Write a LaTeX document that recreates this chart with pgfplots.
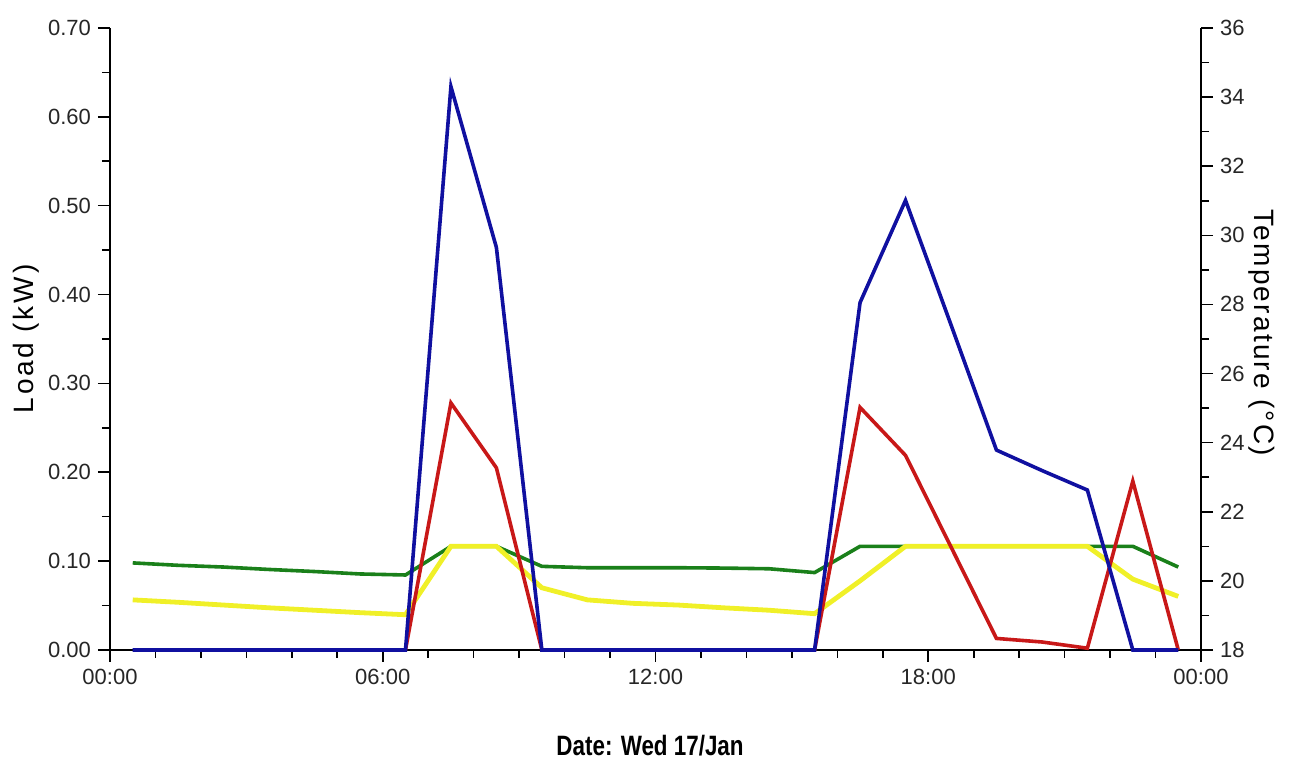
\documentclass[border=0pt]{standalone}
\usepackage{fontspec}
\setmainfont{Liberation Sans}
\usepackage{pgfplots}
\pgfplotsset{compat=1.18}
\usetikzlibrary{calc}
\definecolor{cblue}{RGB}{16,16,160}
\definecolor{cred}{RGB}{200,24,24}
\definecolor{cgreen}{RGB}{26,128,26}
\definecolor{cyellow}{RGB}{240,240,40}
\pgfplotsset{
  common/.style={
    scale only axis, width=545.5pt, height=311pt,
    at={(0,0)}, anchor=south west,
    xmin=0, xmax=24,
    tick align=outside,
    major tick length=6pt, minor tick length=4pt,
    every tick/.style={black, line width=0.8pt},
    axis line style={black, line width=0.9pt},
    tick label style={font=\fontsize{11}{13}\selectfont, text=black!85},
    /pgf/number format/assume math mode=true,
  }
}
\begin{document}
\begin{tikzpicture}
% temperature axis (right)
\begin{axis}[common, name=temp,
  axis x line=none, axis y line*=right,
  ymin=18, ymax=36, ytick={18,20,...,36}, minor y tick num=1,
  every axis y label/.style={at={(axis description cs:1.056,0.51)}, anchor=center, rotate=-90},
  ylabel={\fontsize{14}{16}\selectfont\addfontfeature{LetterSpace=8}Temperature (°C)},
  clip=false]
\addplot[cgreen, line width=1.8pt] coordinates {
(0.5,20.52)(1.5,20.45)(2.5,20.40)(3.5,20.33)(4.5,20.27)(5.5,20.20)(6.5,20.17)
(7.5,21.0)(8.5,21.0)(9.5,20.42)(10.5,20.38)(11.5,20.38)(12.5,20.38)(13.5,20.37)
(14.5,20.35)(15.5,20.24)(16.5,21.0)(17.5,21.0)(18.5,21.0)(19.5,21.0)(20.5,21.0)
(21.5,21.0)(22.5,21.0)(23.5,20.40)};
\addplot[cyellow, line width=2.4pt] coordinates {
(0.5,19.45)(1.5,19.38)(2.5,19.30)(3.5,19.22)(4.5,19.15)(5.5,19.08)(6.5,19.02)
(7.5,21.0)(8.5,21.0)(9.5,19.8)(10.5,19.45)(11.5,19.35)(12.5,19.30)(13.5,19.22)
(14.5,19.15)(15.5,19.05)(16.5,20.0)(17.5,21.0)(18.5,21.0)(19.5,21.0)(20.5,21.0)
(21.5,21.0)(22.5,20.05)(23.5,19.55)};
\end{axis}
% load axis (left)
\begin{axis}[common, name=load,
  axis x line*=bottom, axis y line*=left,
  ymin=0, ymax=0.70, ytick={0,0.1,...,0.7}, minor y tick num=1,
  yticklabel style={/pgf/number format/.cd, fixed, fixed zerofill, precision=2},
  xtick={0,6,12,18,24}, xticklabels={00:00,06:00,12:00,18:00,00:00},
  minor x tick num=5,
  every axis y label/.style={at={(axis description cs:-0.077,0.50)}, anchor=center, rotate=90},
  ylabel={\fontsize{14}{16}\selectfont\addfontfeature{LetterSpace=10}Load (kW)},
  every axis x label/.style={at={(axis description cs:0.495,-0.153)}, anchor=center},
  xlabel={\scalebox{0.8}[1]{\fontsize{14}{16}\selectfont\bfseries Date: Wed 17/Jan}},
  clip=false]
\addplot[cred, line width=1.8pt] coordinates {
(6.5,0)(7.5,0.278)(8.5,0.205)(9.5,0)(15.5,0)(16.5,0.273)(17.5,0.219)(18.5,0.116)
(19.5,0.013)(20.5,0.009)(21.5,0.002)(22.5,0.190)(23.5,0)};
\addplot[cblue, line width=1.8pt] coordinates {
(0.5,0)(1.5,0)(2.5,0)(3.5,0)(4.5,0)(5.5,0)(6.5,0)(7.5,0.634)(8.5,0.453)(9.5,0)
(10.5,0)(11.5,0)(12.5,0)(13.5,0)(14.5,0)(15.5,0)(16.5,0.391)(17.5,0.506)(18.5,0.366)
(19.5,0.225)(20.5,0.202)(21.5,0.180)(22.5,0)(23.5,0)};
\end{axis}
\pgfresetboundingbox
\path[use as bounding box] ($(load.south west)+(-55pt,-57.5pt)$) rectangle ($(load.north east)+(47pt,14pt)$);
\end{tikzpicture}
\end{document}
